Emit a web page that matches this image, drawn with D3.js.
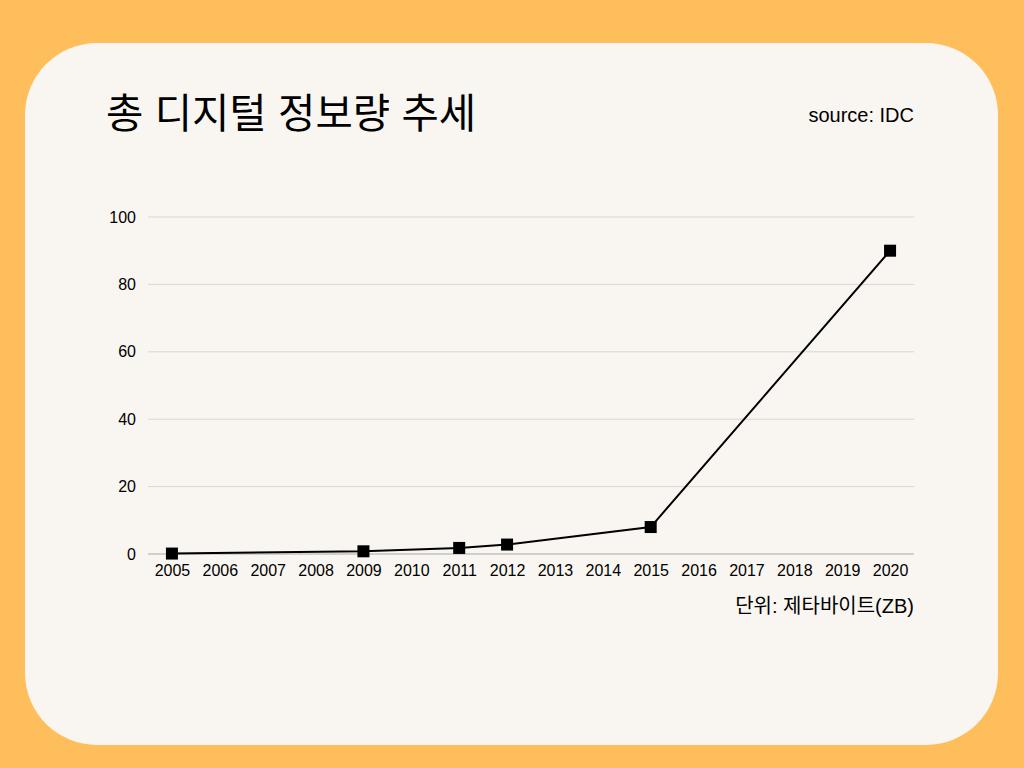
<!DOCTYPE html>
<html lang="ko">

<head>
    <meta charset="UTF-8">
    <title>총 디지털 정보량 추세</title>
    <style>
        body { margin: 0; background: #ffbe5c; }
        svg { display: block; }
    </style>
</head>

<body>
    <script src="https://cdn.jsdelivr.net/npm/d3@7"></script>
    <script>
        const years = ['2005', '2006', '2007', '2008', '2009', '2010', '2011', '2012',
            '2013', '2014', '2015', '2016', '2017', '2018', '2019', '2020'];
        // only the years that have a value in the reference
        const pointYears = ['2005', '2009', '2011', '2012', '2015', '2020'];
        const pointValues = [0.13, 0.8, 1.8, 2.8, 8, 90];
        const yTicks = [0, 20, 40, 60, 80, 100];

        const width = 1024;
        const height = 768;
        const kr = '"Noto Sans CJK KR", "Noto Sans", sans-serif';
        const latin = '"Liberation Sans", Arial, "Noto Sans CJK KR", sans-serif';

        const svg = d3.select('body')
            .append('svg')
            .attr('width', width)
            .attr('height', height);

        svg.append('rect')
            .attr('width', width)
            .attr('height', height)
            .attr('fill', '#ffbe5c');

        svg.append('rect')
            .attr('x', 25)
            .attr('y', 43)
            .attr('width', 973)
            .attr('height', 702)
            .attr('rx', 72)
            .attr('fill', '#f9f6f1');

        svg.append('text')
            .attr('x', 106)
            .attr('y', 128)
            .attr('font-family', kr)
            .attr('font-size', 40.6)
            .attr('fill', '#000')
            .text('총 디지털 정보량 추세');

        svg.append('text')
            .attr('x', 914)
            .attr('y', 122)
            .attr('text-anchor', 'end')
            .attr('font-family', latin)
            .attr('font-size', 20)
            .attr('fill', '#000')
            .text('source: IDC');

        const x = d3.scalePoint()
            .domain(years)
            .range([148, 914])
            .padding(0.5);

        const y = d3.scaleLinear()
            .domain([0, 100])
            .range([554, 217]);

        // gridlines
        svg.append('g')
            .selectAll('line')
            .data(yTicks.filter(d => d > 0))
            .enter()
            .append('line')
            .attr('x1', 148)
            .attr('x2', 914)
            .attr('y1', d => y(d))
            .attr('y2', d => y(d))
            .attr('stroke', '#d9d6d2')
            .attr('stroke-width', 1);

        const yAxis = svg.append('g')
            .attr('transform', 'translate(136,0)')
            .call(d3.axisLeft(y).tickValues(yTicks).tickSize(0).tickPadding(0));
        yAxis.select('.domain').remove();
        yAxis.selectAll('text')
            .attr('font-family', latin)
            .attr('font-size', 16)
            .attr('fill', '#000');

        const xAxis = svg.append('g')
            .attr('transform', 'translate(0,554)')
            .call(d3.axisBottom(x).tickSize(0).tickPadding(11));
        xAxis.select('.domain')
            .attr('stroke', '#aaa8a5')
            .attr('d', 'M148,0H914');
        xAxis.selectAll('text')
            .attr('font-family', latin)
            .attr('font-size', 16)
            .attr('fill', '#000');

        const pts = pointYears.map((yr, i) => ({ year: yr, value: pointValues[i] }));

        const line = d3.line()
            .x(d => x(d.year))
            .y(d => y(d.value));

        svg.append('path')
            .datum(pts)
            .attr('d', line)
            .attr('fill', 'none')
            .attr('stroke', '#000')
            .attr('stroke-width', 2);

        svg.append('g')
            .selectAll('rect')
            .data(pts)
            .enter()
            .append('rect')
            .attr('x', d => x(d.year) - 6)
            .attr('y', d => y(d.value) - 6)
            .attr('width', 12)
            .attr('height', 12)
            .attr('fill', '#000');

        svg.append('text')
            .attr('x', 914)
            .attr('y', 613)
            .attr('text-anchor', 'end')
            .attr('font-family', latin)
            .attr('font-size', 20)
            .attr('fill', '#000')
            .text('단위: 제타바이트(ZB)');
    </script>
</body>

</html>
